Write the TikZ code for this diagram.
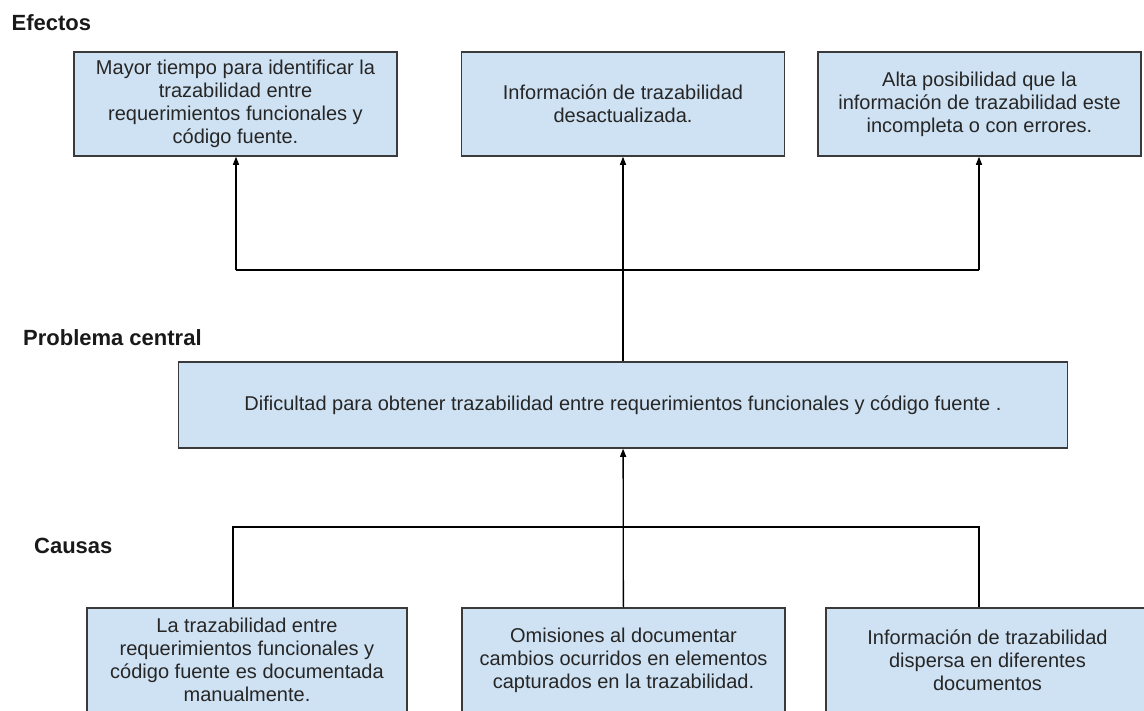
\documentclass[tikz,border=0pt]{standalone}
\usepackage{fontspec}
\setmainfont{Liberation Sans}
\usetikzlibrary{arrows.meta}
\definecolor{boxblue}{HTML}{CFE2F3}
\definecolor{boxline}{HTML}{3A3A3A}

\begin{document}
\begin{tikzpicture}[x=1pt, y=-1pt, line width=1.3pt, >={Triangle[length=8pt,width=6pt]},
  main/.style = {draw=boxline, fill=boxblue, line width=1.5pt, minimum width=323pt, minimum height=104pt, align=center, text=black!85, font=\fontsize{20}{23}\selectfont},
  head/.style = {anchor=base west, inner sep=0pt, font=\fontsize{22}{26}\selectfont\bfseries, text=black!90}]
\clip (0,0) rectangle (1144,710);
\node[head] (h1) at (11,30.5) {Efectos};
\node[head] (h2) at (22.5,345) {Problema central};
\node[head] (h3) at (33.5,553) {Causas};
\node[main] (1) at (235.5,104) {Mayor tiempo para identificar la\\trazabilidad entre\\requerimientos funcionales y\\código fuente.};
\node[main] (2) at (623,104) {Información de trazabilidad\\desactualizada.};
\node[main] (3) at (979.5,104) {Alta posibilidad que la\\información de trazabilidad este\\incompleta o con errores.};
\node[main, minimum width=889pt, minimum height=86pt] (4) at (623,405) {Dificultad para obtener trazabilidad entre requerimientos funcionales y código fuente .};
\node[main, minimum width=320pt] (5) at (247,660) {La trazabilidad entre\\requerimientos funcionales y\\código fuente es documentada\\manualmente.};
\node[main] (6) at (623.5,660) {Omisiones al documentar\\cambios ocurridos en elementos\\capturados en la trazabilidad.};
\node[main] (7) at (987.5,660) {Información de trazabilidad\\dispersa en diferentes\\documentos};
\coordinate (a) at (236,270);
\coordinate (b) at (979,270);
\coordinate (c) at (233,527);
\coordinate (d) at (979,527);
\draw (a) -- (b);
\draw [->] (a) -- (a |- 1.south);
\draw [->] (b) -- (b |- 3.south);
\path [->] (4) edge (2);
\path [->] (6) edge (4);
\draw (c |- 5.north) -- (c) -- (d) -- (d |- 7.north);
\end{tikzpicture}
\end{document}
